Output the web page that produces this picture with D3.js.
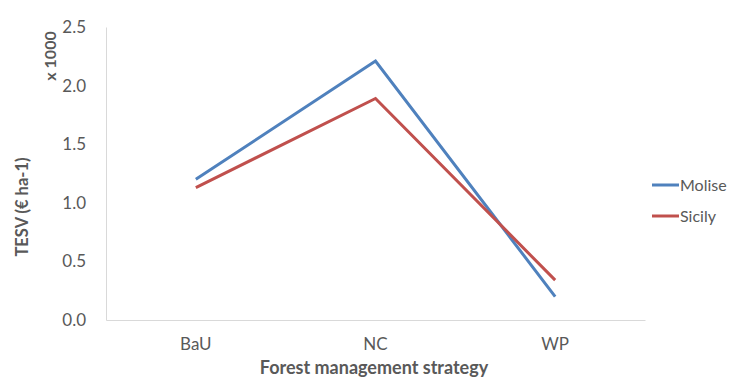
<!DOCTYPE html>
<html>
<head>
<meta charset="utf-8">
<script src="https://cdn.jsdelivr.net/npm/d3@7"></script>
<style>
  body { margin: 0; background: #fff; }
  text { font-family: Lato, "Open Sans", sans-serif; }
</style>
</head>
<body>
<svg id="chart"></svg>
<script>
var categories = ["BaU", "NC", "WP"]
var molise = [1.20, 2.21, 0.20]
var sicily = [1.13, 1.89, 0.34]
var yTicks = [0, 0.5, 1.0, 1.5, 2.0, 2.5]

var series = [
    {name: "Molise", values: molise, color: "#4F81BD"},
    {name: "Sicily", values: sicily, color: "#C0504D"}
]

var width = 731, height = 379
var margin = {top: 27, right: 86, bottom: 59, left: 106}

var svg = d3.select("#chart")
    .attr("width", width)
    .attr("height", height)

var x = d3.scaleBand()
    .domain(categories)
    .range([margin.left, width - margin.right])

var y = d3.scaleLinear()
    .domain([0, 2.5])
    .range([height - margin.bottom, margin.top])

// y axis
var yAxis = svg.append("g")
    .attr("transform", "translate(" + margin.left + ",0)")
    .call(d3.axisLeft(y).tickValues(yTicks).tickFormat(d3.format(".1f")).tickSize(0).tickPadding(20))
yAxis.select(".domain").attr("stroke", "#D9D9D9")
yAxis.selectAll("text").attr("fill", "#595959").style("font-size", "17px")

// x axis
var xAxis = svg.append("g")
    .attr("transform", "translate(0," + (height - margin.bottom) + ")")
    .call(d3.axisBottom(x).tickSize(0).tickPadding(18))
xAxis.select(".domain").attr("stroke", "#D9D9D9")
xAxis.selectAll("text").attr("fill", "#595959").style("font-size", "17px")

var line = d3.line()
    .x(function(d, i) { return x(categories[i]) + x.bandwidth() / 2 })
    .y(function(d) { return y(d) })

svg.selectAll(".series")
    .data(series)
    .enter()
    .append("path")
    .attr("class", "series")
    .attr("d", function(d) { return line(d.values) })
    .attr("fill", "none")
    .attr("stroke", function(d) { return d.color })
    .attr("stroke-width", 3)

// legend
var legend = svg.selectAll(".legend")
    .data(series)
    .enter()
    .append("g")
    .attr("class", "legend")
    .attr("transform", function(d, i) { return "translate(652," + (185 + i * 31) + ")" })
legend.append("line")
    .attr("x1", 0).attr("x2", 27)
    .attr("stroke", function(d) { return d.color })
    .attr("stroke-width", 3)
legend.append("text")
    .attr("x", 28)
    .attr("dy", "0.35em")
    .attr("fill", "#595959")
    .style("font-size", "16px")
    .text(function(d) { return d.name })

// titles
svg.append("text")
    .attr("transform", "translate(28,207) rotate(-90)")
    .attr("text-anchor", "middle")
    .attr("fill", "#595959")
    .style("font-size", "16.5px")
    .style("font-weight", "bold")
    .text("TESV (€ ha-1)")

svg.append("text")
    .attr("transform", "translate(56,56) rotate(-90)")
    .attr("text-anchor", "middle")
    .attr("fill", "#595959")
    .style("font-size", "16px")
    .style("font-weight", "bold")
    .text("x 1000")

svg.append("text")
    .attr("x", 374)
    .attr("y", 374)
    .attr("text-anchor", "middle")
    .attr("fill", "#595959")
    .style("font-size", "18px")
    .style("font-weight", "bold")
    .text("Forest management strategy")
</script>
</body>
</html>
